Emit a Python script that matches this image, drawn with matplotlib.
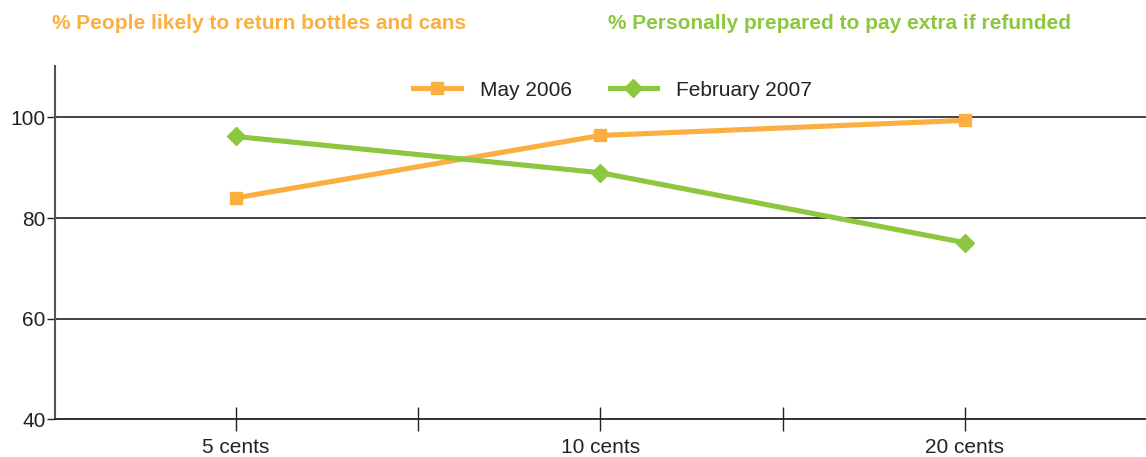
import matplotlib.pyplot as plt
from matplotlib.ticker import FixedLocator

plt.rcParams['font.family'] = ['Liberation Sans', 'DejaVu Sans']

categories = ['5 cents', '10 cents', '20 cents']
may_2006 = [84.0, 96.4, 99.4]
feb_2007 = [96.2, 89.0, 75.1]
y_ticks = [40, 60, 80, 100]

orange = '#FBAF41'
green = '#8DC63F'

fig = plt.figure(figsize=(11.46, 4.57), dpi=100)
ax = fig.add_axes([0.0484, 0.0825, 0.9516, 0.773])

x = range(len(categories))
ax.plot(x, may_2006, color=orange, lw=3.7, marker='s', ms=8, label='May 2006')
ax.plot(x, feb_2007, color=green, lw=3.7, marker='D', ms=9.5, label='February 2007')

ax.set_xlim(-0.495, 2.497)
ax.set_ylim(40, 110.2)

# gridlines only at the labelled values
for v in y_ticks[1:]:
    ax.axhline(v, color='#222222', lw=1.2, zorder=0)

ax.set_yticks(y_ticks)
ax.set_xticks(list(x))
ax.set_xticklabels(categories)
ax.xaxis.set_minor_locator(FixedLocator([0.5, 1.5]))

for s in ['top', 'right']:
    ax.spines[s].set_visible(False)
ax.spines['left'].set_color('#555555')
ax.spines['left'].set_linewidth(1.5)
ax.spines['bottom'].set_color('#222222')
ax.spines['bottom'].set_linewidth(1.3)

ax.tick_params(axis='x', which='both', direction='inout', length=17, width=1,
               color='#222222', labelsize=15, labelcolor='#222222', pad=5)
ax.tick_params(axis='y', direction='out', length=6, width=1, color='#222222',
               labelsize=15, labelcolor='#222222', pad=1)

ax.legend(loc='center', bbox_to_anchor=(0.511, 0.932), ncol=2, frameon=False,
          fontsize=15, handlelength=2.3, columnspacing=1.8, handletextpad=0.9,
          labelcolor='#222222')

fig.text(0.045, 0.948, '% People likely to return bottles and cans', color=orange,
         fontsize=15, fontweight='bold', va='center')
fig.text(0.5305, 0.948, '% Personally prepared to pay extra if refunded', color=green,
         fontsize=15, fontweight='bold', va='center')

fig.savefig('out.png', dpi=100)
